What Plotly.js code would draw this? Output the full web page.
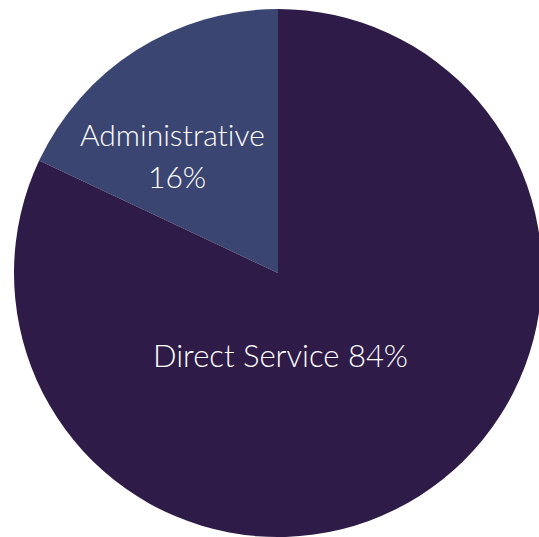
<!DOCTYPE html>
<html>
<head>
<meta charset="utf-8">
<script src="https://cdn.plot.ly/plotly-3.0.1.min.js"></script>
<style>
html,body{margin:0;padding:0;overflow:hidden;background:#fff;}
#chart{width:542px;height:537px;}
svg text{font-variant-ligatures:none !important;font-feature-settings:"liga" 0;}
</style>
</head>
<body>
<div id="chart"></div>
<script>
// Data
const labels = ["Administrative", "Direct Service"];
const sliceValues = [18, 82];          // slice sizes as drawn
const shownPercents = ["16%", "84%"];  // percentages printed on the chart
const colors = ["#3B4571", "#2E1B47"];

const W = 542, H = 537, L = 14, T = 9, S = 528;
function px(x){ return (x - L) / S; }
function py(y){ return 1 - (y - T) / S; }

const font = {family: "Lato, 'Open Sans', sans-serif", size: 30, color: "#ffffff", weight: 300};

const annotations = [
  {text: labels[0], x: px(172.5), y: py(134), xref: "paper", yref: "paper",
   xanchor: "center", yanchor: "middle", showarrow: false, font: font},
  {text: shownPercents[0], x: px(177), y: py(176), xref: "paper", yref: "paper",
   xanchor: "center", yanchor: "middle", showarrow: false, font: font},
  {text: labels[1] + " " + shownPercents[1], x: px(280), y: py(355), xref: "paper", yref: "paper",
   xanchor: "center", yanchor: "middle", showarrow: false, font: Object.assign({}, font, {size: 31})}
];

Plotly.newPlot("chart", [{
  type: "pie",
  labels: labels,
  values: sliceValues,
  sort: false,
  direction: "clockwise",
  rotation: -64.8,
  textinfo: "none",
  hoverinfo: "none",
  marker: {colors: colors, line: {width: 0}},
  domain: {x: [0, 1], y: [0, 1]}
}], {
  width: W, height: H,
  margin: {l: L, r: W - L - S, t: T, b: H - T - S, pad: 0},
  showlegend: false,
  paper_bgcolor: "#ffffff",
  annotations: annotations
}, {staticPlot: true, displayModeBar: false});
</script>
</body>
</html>
